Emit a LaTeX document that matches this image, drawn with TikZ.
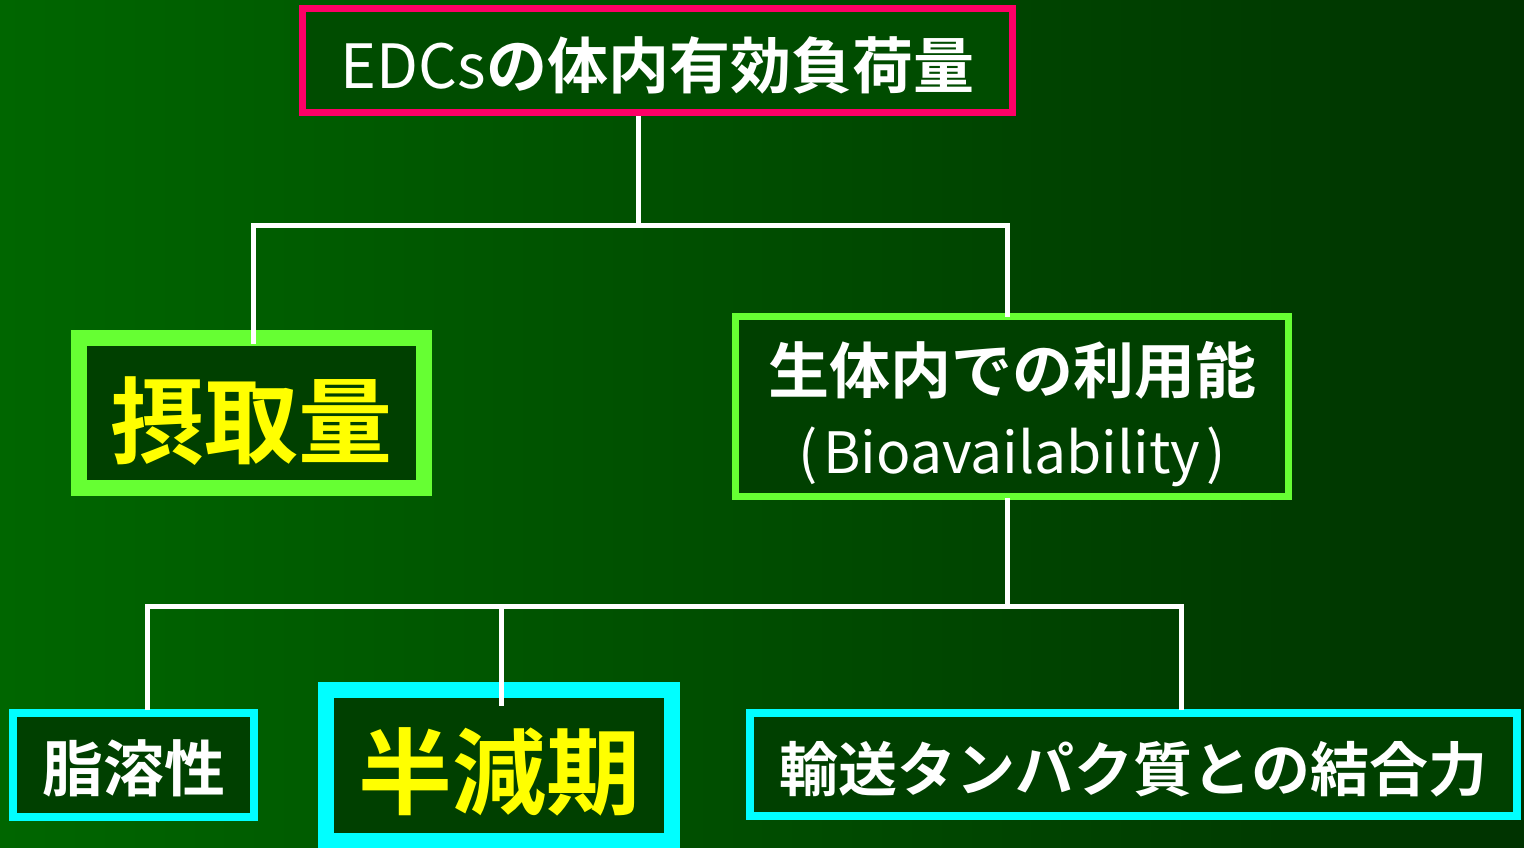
\documentclass[tikz,border=0pt]{standalone}
\usepackage{fontspec}
\newfontfamily\jp{Noto Sans CJK JP}[BoldFont={Noto Sans CJK JP Bold}]
\definecolor{bgL}{RGB}{0,102,0}
\definecolor{bgR}{RGB}{0,51,0}
\definecolor{boxfill}{RGB}{0,64,0}
\definecolor{topfill}{RGB}{0,76,0}
\definecolor{pinkb}{RGB}{255,0,102}
\definecolor{limeb}{RGB}{102,255,51}
\definecolor{cyanb}{RGB}{0,255,255}
\definecolor{yel}{RGB}{255,255,0}
\begin{document}
\begin{tikzpicture}[x=1pt,y=-1pt,
  box/.style={draw, fill=boxfill, rectangle, inner sep=0pt},
  mid/.style={font={\jp\bfseries\fontsize{61}{80}\selectfont}, text=white, inner sep=0pt, align=center},
  big/.style={font={\jp\bfseries\fontsize{94}{100}\selectfont}, text=yel, inner sep=0pt},
  conn/.style={draw=white, line width=5pt}]
\shade[left color=bgL, right color=bgR] (0,0) rectangle (1524,847);
\useasboundingbox (0,0) rectangle (1524,847);

\node[box, draw=pinkb, fill=topfill, line width=7pt, minimum width=710pt, minimum height=104pt] (top) at (657.5,60.5) {};
\node[box, draw=limeb, line width=16pt, minimum width=345pt, minimum height=150pt] (intake) at (251.5,413) {};
\node[box, draw=limeb, line width=7pt, minimum width=553pt, minimum height=180pt] (bio) at (1012,406.5) {};
\node[box, draw=cyanb, line width=8pt, minimum width=241pt, minimum height=104pt] (fat) at (133.5,765) {};
\node[box, draw=cyanb, line width=16pt, minimum width=346pt, minimum height=151pt] (half) at (499,765.5) {};
\node[box, draw=cyanb, line width=8pt, minimum width=767pt, minimum height=103pt] (tp) at (1133.5,764.5) {};

\node[mid] (topT) at ([yshift=-5pt,xshift=0pt]top.center) {{\mdseries EDCs}の体内有効負荷量};
\node[big] (intakeT) at ([yshift=-8pt]intake.center) {摂取量};
\node[mid] (bioT) at ([yshift=-8pt]bio.center) {生体内での利用能\\{\mdseries\fontsize{57}{80}\selectfont(\hspace{6pt}Bioavailability\hspace{6pt})}};
\node[mid] (fatT) at ([yshift=-3pt]fat.center) {脂溶性};
\node[big] (halfT) at ([yshift=-6pt]half.center) {半減期};
\node[mid, font={\jp\bfseries\fontsize{59}{70}\selectfont}] (tpT) at ([yshift=-5pt]tp.center) {輸送タンパク質との結合力};

\coordinate (j1) at (638,225);
\coordinate (jl) at (253,225);
\coordinate (jr) at (1007,225);
\coordinate (j2) at (1007,606);
\coordinate (k1) at (147,606);
\coordinate (k2) at (501,606);
\coordinate (k3) at (1181,606);

\draw[conn] (j1 |- top.south) -- (j1);
\draw[conn] (jl |- intake.north) ++(0,14) -- (jl) -- (jr) -- ([yshift=-4pt]jr |- bio.north);
\draw[conn] ([yshift=2pt]j2 |- bio.south) -- (j2);
\draw[conn] ([yshift=-1pt]k1 |- fat.north) -- (k1) -- (k3) -- ([yshift=-1pt]k3 |- tp.north);
\draw[conn] (k2) -- ([yshift=-24pt]k2 |- half.north);
\end{tikzpicture}
\end{document}
